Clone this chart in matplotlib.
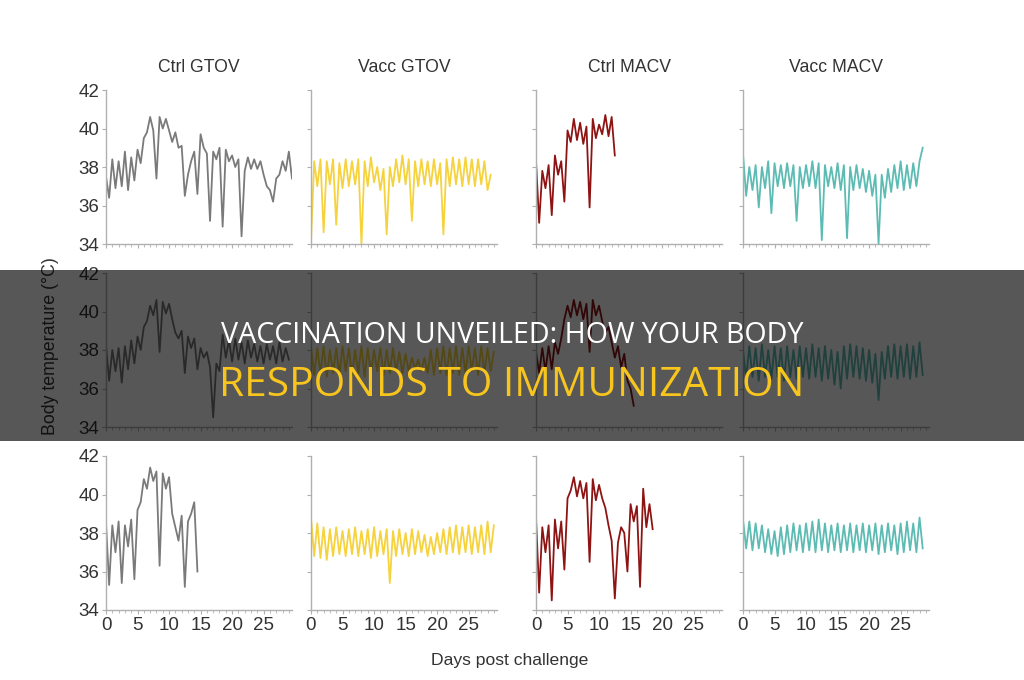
import numpy as np
import matplotlib
matplotlib.use('Agg')
import matplotlib.pyplot as plt
from matplotlib.patches import Rectangle

plt.rcParams['font.family'] = ['Liberation Sans', 'DejaVu Sans']

# temperatures read every half day (days post challenge)
step = 0.5

titles = ['Ctrl GTOV', 'Vacc GTOV', 'Ctrl MACV', 'Vacc MACV']
colors = ['#7a7a7a', '#f6d23c', '#8e1414', '#5cbcb3']

# row 1
r1_ctrl_gtov = [37.5, 36.4, 38.4, 36.9, 38.3, 37.0, 38.8, 36.8, 38.5, 37.3,
                38.9, 38.2, 39.5, 39.8, 40.6, 39.9, 37.4, 40.6, 40.0, 40.5,
                39.9, 39.3, 39.8, 39.0, 39.1, 36.5, 37.6, 38.3, 38.8, 36.6,
                39.7, 39.0, 38.7, 35.2, 38.8, 38.4, 39.0, 34.9, 38.9, 38.3,
                38.6, 38.0, 38.4, 34.4, 37.8, 38.5, 37.9, 38.4, 37.9, 38.3,
                37.6, 37.0, 36.8, 36.2, 37.4, 37.6, 38.3, 37.8, 38.8, 37.4]
r1_vacc_gtov = [34.1, 38.3, 37.0, 38.4, 34.6, 38.3, 37.1, 38.4, 35.0, 38.2,
                36.9, 38.4, 37.0, 38.3, 37.1, 38.4, 34.0, 38.3, 37.0, 38.5,
                37.2, 38.0, 36.8, 37.9, 34.5, 38.0, 37.0, 38.4, 37.2, 38.6,
                37.1, 38.4, 35.2, 38.3, 37.0, 38.4, 37.1, 38.3, 37.0, 38.4,
                37.1, 38.2, 34.5, 38.4, 37.0, 38.5, 37.1, 38.4, 37.0, 38.5,
                37.1, 38.4, 37.0, 38.4, 37.1, 38.3, 36.8, 37.6]
r1_ctrl_macv = [38.3, 35.1, 37.8, 36.9, 38.1, 35.5, 38.6, 37.6, 38.3, 36.2,
                39.9, 39.3, 40.5, 39.4, 40.3, 39.2, 40.1, 35.9, 40.5, 39.5,
                40.2, 39.7, 40.7, 39.6, 40.6, 38.6]
r1_vacc_macv = [38.7, 36.5, 38.0, 36.8, 38.1, 35.9, 38.0, 36.9, 38.3, 35.6,
                38.2, 37.0, 38.1, 36.9, 38.2, 37.0, 38.1, 35.2, 38.0, 36.9,
                38.1, 37.0, 38.3, 36.9, 38.2, 34.2, 38.1, 37.0, 38.0, 36.9,
                38.2, 36.8, 38.1, 34.3, 38.0, 36.8, 38.1, 36.9, 37.9, 36.7,
                37.8, 36.5, 37.6, 34.0, 37.6, 36.4, 37.9, 36.7, 38.1, 36.9,
                38.3, 36.8, 38.1, 36.9, 38.2, 37.0, 38.3, 39.0]

# row 2
r2_ctrl_gtov = [38.2, 36.4, 38.0, 36.9, 38.1, 36.3, 38.2, 37.0, 38.5, 37.3,
                38.7, 38.0, 39.2, 39.5, 40.3, 39.8, 40.6, 37.9, 40.5, 39.9,
                40.4, 39.6, 38.9, 38.6, 39.0, 36.8, 38.7, 38.1, 38.6, 37.0,
                38.1, 37.6, 37.9, 37.1, 34.5, 37.3, 36.9, 38.8, 37.6, 38.5,
                37.4, 38.6, 37.5, 38.4, 37.3, 38.5, 37.6, 38.3, 37.4, 38.2,
                37.3, 38.3, 37.5, 38.2, 37.3, 38.4, 37.4, 38.1, 37.5]
r2_vacc_gtov = [38.2, 36.7, 38.1, 36.8, 38.2, 36.6, 38.0, 36.8, 38.1, 36.7,
                38.2, 36.9, 38.1, 36.7, 38.0, 36.8, 38.2, 36.6, 38.1, 36.8,
                38.0, 36.9, 38.1, 36.7, 38.0, 36.8, 38.1, 36.9, 37.9, 36.8,
                37.8, 36.9, 37.6, 37.0, 37.5, 36.9, 37.6, 36.8, 38.0, 36.7,
                38.1, 36.8, 38.2, 36.7, 38.1, 36.8, 38.2, 36.7, 38.1, 36.8,
                38.2, 36.9, 38.1, 36.7, 38.2, 36.8, 38.1, 36.9, 37.9]
r2_ctrl_macv = [37.9, 36.8, 38.1, 36.9, 38.2, 37.0, 38.4, 37.8, 38.6, 39.6,
                40.3, 39.7, 40.6, 39.8, 40.5, 39.6, 40.4, 37.9, 40.6, 39.8,
                40.3, 39.5, 38.9, 39.2, 38.4, 37.6, 38.2, 37.1, 37.8, 36.4,
                36.0, 35.1]
r2_vacc_macv = [38.0, 36.5, 38.2, 36.6, 38.1, 36.4, 38.3, 36.6, 38.0, 36.5,
                38.2, 36.6, 38.1, 36.4, 38.2, 36.6, 38.0, 36.5, 38.2, 36.6,
                38.1, 36.5, 38.3, 36.6, 38.1, 36.4, 38.2, 36.5, 38.0, 36.2,
                37.9, 36.0, 38.2, 36.5, 38.3, 36.6, 38.2, 36.5, 38.1, 36.4,
                38.0, 36.3, 37.8, 35.4, 37.9, 36.5, 38.2, 36.6, 38.3, 36.5,
                38.2, 36.6, 38.3, 36.5, 38.2, 36.6, 38.4, 36.7]

# row 3
r3_ctrl_gtov = [38.5, 35.3, 38.4, 37.0, 38.6, 35.4, 38.4, 37.3, 38.7, 35.6,
                39.2, 39.6, 40.8, 40.3, 41.4, 40.7, 41.2, 36.3, 41.1, 40.3,
                40.9, 39.0, 38.3, 37.6, 38.9, 35.2, 38.6, 39.0, 39.6, 36.0]
r3_vacc_gtov = [38.8, 36.8, 38.5, 36.7, 38.3, 36.6, 38.2, 36.8, 38.3, 36.9,
                38.1, 36.8, 38.2, 36.9, 38.3, 36.8, 38.1, 36.9, 38.2, 36.7,
                38.3, 36.8, 38.1, 36.9, 38.2, 35.4, 38.1, 36.8, 38.2, 36.9,
                38.0, 36.8, 38.2, 36.9, 38.1, 37.0, 37.9, 36.8, 37.8, 36.9,
                38.0, 37.0, 38.2, 36.9, 38.3, 37.0, 38.4, 36.9, 38.3, 37.0,
                38.4, 36.9, 38.3, 37.0, 38.4, 36.9, 38.6, 37.0, 38.4]
r3_ctrl_macv = [38.8, 34.9, 38.3, 37.0, 38.4, 34.5, 38.7, 37.2, 38.6, 36.1,
                39.8, 40.2, 40.9, 39.9, 40.7, 39.8, 40.6, 36.5, 40.8, 39.7,
                40.5, 39.8, 39.3, 38.4, 37.6, 34.6, 37.5, 38.3, 38.0, 36.0,
                39.5, 38.6, 39.4, 35.2, 40.3, 38.3, 39.5, 38.2]
r3_vacc_macv = [38.7, 37.2, 38.6, 37.1, 38.5, 37.2, 38.4, 37.0, 38.2, 36.9,
                38.1, 36.8, 38.3, 36.9, 38.4, 37.0, 38.5, 37.1, 38.4, 37.0,
                38.5, 37.1, 38.6, 37.0, 38.7, 37.1, 38.5, 37.0, 38.4, 37.1,
                38.5, 37.0, 38.4, 37.1, 38.5, 37.0, 38.4, 37.1, 38.5, 37.0,
                38.4, 37.1, 38.5, 36.9, 38.4, 37.0, 38.5, 37.1, 38.4, 36.9,
                38.5, 37.0, 38.6, 37.1, 38.5, 37.0, 38.8, 37.2]

rows = [
    [r1_ctrl_gtov, r1_vacc_gtov, r1_ctrl_macv, r1_vacc_macv],
    [r2_ctrl_gtov, r2_vacc_gtov, r2_ctrl_macv, r2_vacc_macv],
    [r3_ctrl_gtov, r3_vacc_gtov, r3_ctrl_macv, r3_vacc_macv],
]

yticks = [34, 36, 38, 40, 42]
xticks = [0, 5, 10, 15, 20, 25]

W, H = 1024, 680
fig = plt.figure(figsize=(W / 100, H / 100), dpi=100)

col_left = [106, 311, 536, 743]
row_top = [90, 273, 456]
ax_w, ax_h = 186, 154

for r, series in enumerate(rows):
    for c, temps in enumerate(series):
        ax = fig.add_axes([col_left[c] / W, 1 - (row_top[r] + ax_h) / H, ax_w / W, ax_h / H])
        days = np.arange(len(temps)) * step
        ax.plot(days, temps, color=colors[c], lw=1.3)
        ax.set_xlim(0, 29.5)
        ax.set_ylim(34, 42)
        ax.set_yticks(yticks)
        ax.set_xticks(xticks)
        ax.set_xticks(np.arange(0, 30), minor=True)
        for s in ['top', 'right']:
            ax.spines[s].set_visible(False)
        for s in ['left', 'bottom']:
            ax.spines[s].set_color('#b0b0b0')
            ax.spines[s].set_linewidth(1.0)
        ax.tick_params(colors='#b0b0b0', labelcolor='#333333', labelsize=13.5,
                       length=3, width=0.8, pad=2)
        ax.tick_params(which='minor', colors='#b0b0b0', length=2, width=0.6)
        if c != 0:
            ax.set_yticklabels([])
        if r != 2:
            ax.set_xticklabels([])
        if r == 0:
            ax.set_title(titles[c], fontsize=12.7, color='#333333', pad=13)

fig.text(51 / W, 1 - 346 / H, 'Body temperature (°C)', rotation=90,
         ha='center', va='center', fontsize=12.8, color='#333333')
fig.text(510 / W, 1 - 660 / H, 'Days post challenge',
         ha='center', va='center', fontsize=12.6, color='#333333')

# dark banner over the middle row
fig.patches.append(Rectangle((0, 1 - 441 / H), 1, 171 / H, transform=fig.transFigure,
                             facecolor='black', alpha=0.66, zorder=10))

renderer = fig.canvas.get_renderer()
target_w = 584
for txt, base, col, fs in [('VACCINATION UNVEILED: HOW YOUR BODY', 343, 'white', 18),
                           ('RESPONDS TO IMMUNIZATION', 396, '#f7c51e', 27)]:
    t = fig.text(0.5, 1 - base / H, txt, ha='center', va='baseline', color=col,
                 fontsize=fs, family=['Open Sans', 'DejaVu Sans'], zorder=11)
    w = t.get_window_extent(renderer).width
    t.set_fontsize(fs * target_w / w)

fig.savefig('out.png', dpi=100)
